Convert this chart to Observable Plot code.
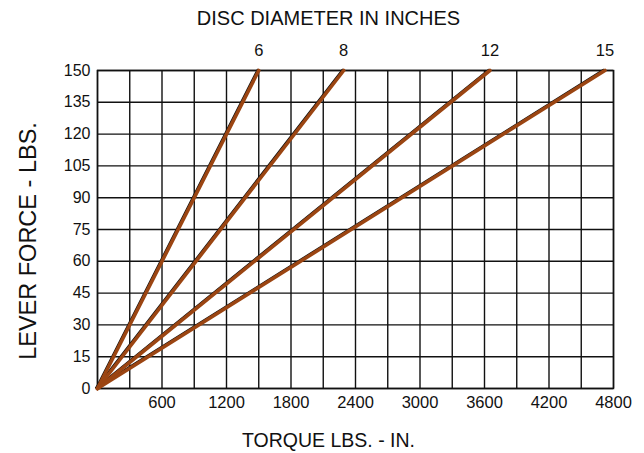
<!DOCTYPE html>
<html>
<head>
<meta charset="utf-8">
<script src="https://cdn.jsdelivr.net/npm/d3@7"></script>
<script src="https://cdn.jsdelivr.net/npm/@observablehq/plot@0.6"></script>
<style>
  html, body { margin: 0; padding: 0; background: #fff; }
  #chart svg { display: block; }
</style>
</head>
<body>
<div id="chart"></div>
<script>
// Disc diameters (inches) and torque at which each line reaches 150 lbs lever force
const diameters = ["6", "8", "12", "15"];
const endTorque = [1500, 2290, 3650, 4720];
const endForce = 150;

const xTickValues = [600, 1200, 1800, 2400, 3000, 3600, 4200, 4800];
const yTickValues = [0, 15, 30, 45, 60, 75, 90, 105, 120, 135, 150];
const xGrid = d3.range(0, 4801, 300);

const lines = diameters.flatMap((d, i) => [
  {disc: d, torque: 0, force: 0},
  {disc: d, torque: endTorque[i], force: endForce}
]);
const ends = diameters.map((d, i) => ({disc: d, torque: endTorque[i], force: endForce}));

const font = "Liberation Sans, Arial, Helvetica, sans-serif";
const brown = "#9b4512";

const chart = Plot.plot({
  width: 644,
  height: 453,
  marginLeft: 97,
  marginRight: 31,
  marginTop: 70,
  marginBottom: 65,
  style: {fontFamily: font, color: "#111", background: "#fff"},
  x: {domain: [0, 4800]},
  y: {domain: [0, 150]},
  marks: [
    Plot.ruleX(xGrid, {stroke: "#111", strokeWidth: 1.4}),
    Plot.ruleY(yTickValues, {stroke: "#111", strokeWidth: 1.4}),
    Plot.frame({stroke: "#111", strokeWidth: 1.5}),
    Plot.axisX(xTickValues, {tickSize: 0, tickPadding: 8, fontSize: 16.5, label: null, fill: "#111", tickFormat: "d"}),
    Plot.axisY(yTickValues, {tickSize: 0, tickPadding: 7, fontSize: 16, label: null, fill: "#111", tickFormat: "d"}),
    Plot.line(lines, {x: "torque", y: "force", z: "disc", stroke: "#111", strokeWidth: 1.6, dx: -1.3, dy: -1}),
    Plot.line(lines, {x: "torque", y: "force", z: "disc", stroke: brown, strokeWidth: 3.6}),
    Plot.text(ends, {x: "torque", y: "force", text: "disc", dy: -20, fontSize: 16.5, fill: "#111", lineAnchor: "middle"}),
    Plot.text(["DISC DIAMETER IN INCHES"], {frameAnchor: "top", dx: -27, dy: -52, fontSize: 20, fill: "#111", lineAnchor: "middle"}),
    Plot.text(["TORQUE LBS. - IN."], {frameAnchor: "bottom", dx: -27, dy: 52, fontSize: 19.5, fill: "#111", lineAnchor: "middle"}),
    Plot.text(["LEVER FORCE - LBS."], {frameAnchor: "left", dx: -69, dy: 11.5, rotate: -90, textAnchor: "middle", fontSize: 23.5, fill: "#111", lineAnchor: "middle"})
  ]
});
document.getElementById("chart").appendChild(chart);
</script>
</body>
</html>
